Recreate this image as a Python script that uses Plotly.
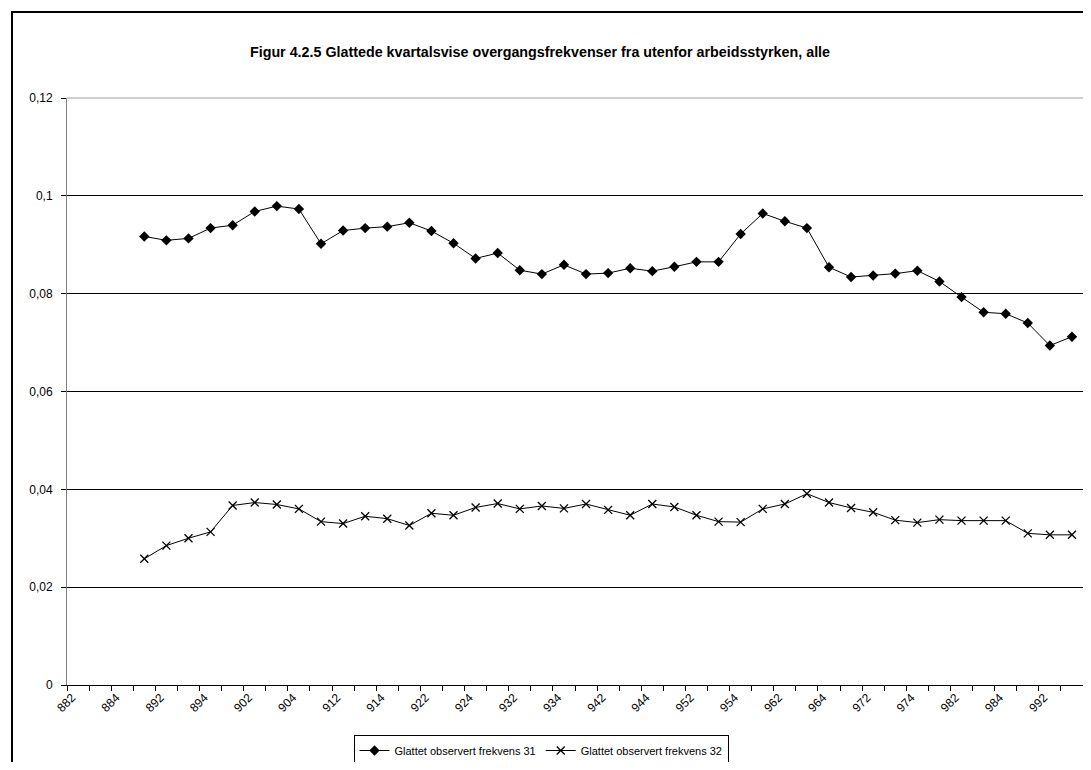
import plotly.graph_objects as go

categories = ["882", "883", "884",
              "891", "892", "893", "894",
              "901", "902", "903", "904",
              "911", "912", "913", "914",
              "921", "922", "923", "924",
              "931", "932", "933", "934",
              "941", "942", "943", "944",
              "951", "952", "953", "954",
              "961", "962", "963", "964",
              "971", "972", "973", "974",
              "981", "982", "983", "984",
              "991", "992", "993"]

series31_name = "Glattet observert frekvens 31"
series32_name = "Glattet observert frekvens 32"

series31 = [0.0917, 0.0909, 0.0913, 0.0934, 0.0940, 0.0968, 0.0979, 0.0973,
            0.0902, 0.0929, 0.0934, 0.0937, 0.0945, 0.0928, 0.0903, 0.0872,
            0.0883, 0.0848, 0.0840, 0.0859, 0.0840, 0.0842, 0.0852, 0.0846,
            0.0855, 0.0865, 0.0865, 0.0922, 0.0964, 0.0948, 0.0934, 0.0854,
            0.0834, 0.0837, 0.0841, 0.0847, 0.0825, 0.0793, 0.0762, 0.0759,
            0.0740, 0.0694, 0.0712]

series32 = [0.0258, 0.0285, 0.0300, 0.0313, 0.0367, 0.0373, 0.0369, 0.0360,
            0.0334, 0.0330, 0.0345, 0.0340, 0.0326, 0.0351, 0.0347, 0.0363,
            0.0371, 0.0360, 0.0366, 0.0361, 0.0370, 0.0358, 0.0347, 0.0370,
            0.0364, 0.0347, 0.0334, 0.0333, 0.0360, 0.0370, 0.0391, 0.0373,
            0.0362, 0.0353, 0.0337, 0.0332, 0.0338, 0.0336, 0.0336, 0.0336,
            0.0310, 0.0307, 0.0307]

data_categories = categories[3:3 + len(series31)]

title_text = "Figur 4.2.5 Glattede kvartalsvise overgangsfrekvenser fra utenfor arbeidsstyrken, alle"

tick_text = [c if i % 2 == 0 else "" for i, c in enumerate(categories)]

FONT = "Liberation Sans, Arial, sans-serif"

# page body has an 8px margin; keep the figure inside the viewport
W, H = 1075, 754
L, R, T, B = 59, 0, 90, 77
PW = W - L - R
PH = H - T - B

fig = go.Figure()
fig.add_trace(go.Scatter(
    x=data_categories, y=series31, name=series31_name, mode="lines+markers",
    line=dict(color="black", width=1),
    marker=dict(symbol="diamond", size=8, color="black"),
))
fig.add_trace(go.Scatter(
    x=data_categories, y=series32, name=series32_name, mode="lines+markers",
    line=dict(color="black", width=1),
    marker=dict(symbol="x-thin", size=8, color="black",
                line=dict(color="black", width=1.3)),
))

fig.update_layout(
    width=W, height=H,
    paper_bgcolor="white", plot_bgcolor="white",
    separators=",.",
    font=dict(family=FONT, size=12, color="black"),
    margin=dict(l=L, r=R, t=T, b=B, autoexpand=False),
    title=dict(text="<b>" + title_text + "</b>", xref="container",
               x=532 / W, xanchor="center",
               y=1 - 44 / H, yanchor="middle",
               font=dict(family=FONT, size=14.3, color="black")),
    showlegend=True,
    legend=dict(orientation="h", xref="paper", x=(541 - 8 - L) / PW,
                xanchor="center",
                yref="container", y=1 - 727 / H, yanchor="top",
                bordercolor="black", borderwidth=1,
                font=dict(family=FONT, size=11, color="black"),
                itemwidth=30, tracegroupgap=0,
                traceorder="normal"),
)

fig.update_xaxes(
    type="category", categoryorder="array", categoryarray=categories,
    range=[-0.5, len(categories) - 0.5],
    tickmode="array", tickvals=categories, ticktext=tick_text,
    tickson="boundaries", ticks="outside", ticklen=5, tickcolor="black",
    tickangle=-45, ticklabelshift=-6, showgrid=False,
    showline=True, linecolor="black", linewidth=1,
    tickfont=dict(family=FONT, size=12, color="black"),
    zeroline=False,
)
fig.update_yaxes(
    range=[0, 0.12], dtick=0.02, tick0=0,
    showgrid=True, gridcolor="black", gridwidth=1,
    showline=True, linecolor="#808080", linewidth=1,
    ticks="outside", ticklen=5, tickcolor="black", ticklabelstandoff=6,
    tickfont=dict(family=FONT, size=12, color="black"),
    zeroline=False,
)

# top border of plot area (gray)
fig.add_shape(type="line", xref="paper", yref="paper",
              x0=0, x1=1, y0=1, y1=1,
              line=dict(color="#a0a0a0", width=1))

# outer chart border
fig.add_shape(type="rect", xref="paper", yref="paper",
              x0=(4 - L) / PW, x1=1.02,
              y0=-0.2, y1=1 + (T - 4) / PH,
              line=dict(color="black", width=2), fillcolor="rgba(0,0,0,0)",
              layer="below")

fig.write_html("out.html")
